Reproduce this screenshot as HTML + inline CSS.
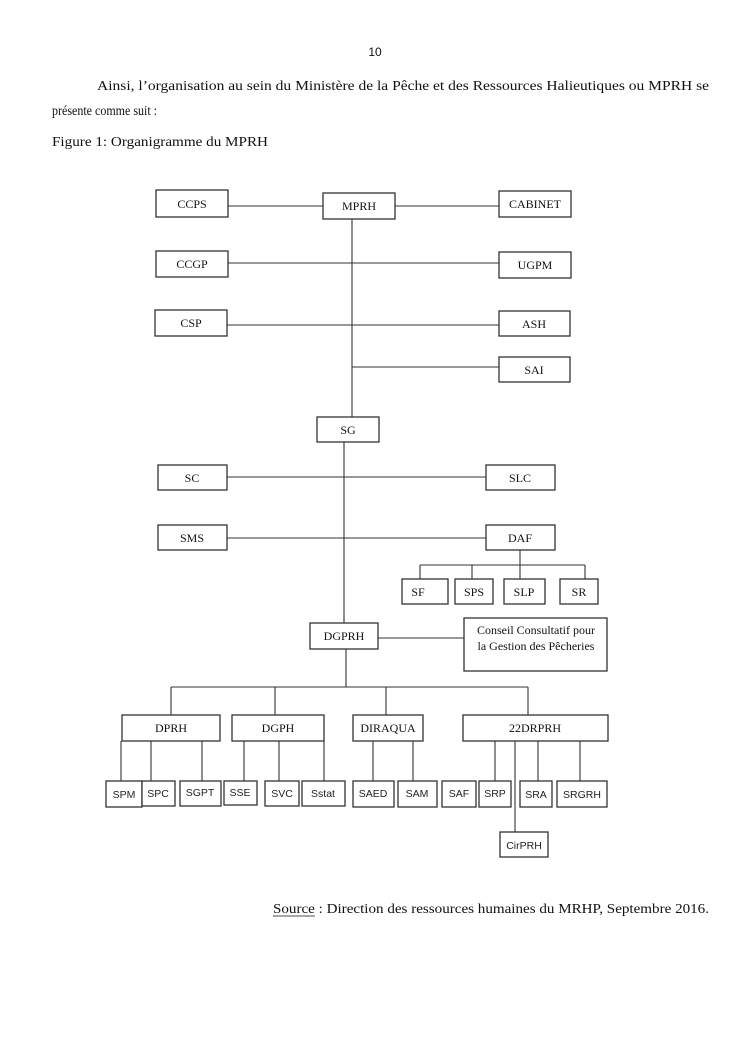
<!DOCTYPE html>
<html><head><meta charset="utf-8"><style>
html,body{margin:0;padding:0;background:#fff;}
svg{display:block}
.t{font-family:"Times New Roman","Liberation Serif",Times,serif;fill:#111}
.b{font-family:"Times New Roman","Liberation Serif",Times,serif;fill:#111;font-size:12px;text-anchor:middle}
.s{font-family:"Liberation Sans",Arial,sans-serif;fill:#222;font-size:10.5px;text-anchor:middle}
rect{fill:#fff;stroke:#333;stroke-width:1.3}
line{stroke:#333;stroke-width:1.1}
</style></head><body>
<svg width="745" height="1053" viewBox="0 0 745 1053" xmlns="http://www.w3.org/2000/svg">
<text x="375" y="56" class="s" style="font-size:12px;fill:#111">10</text>
<text x="97" y="90" class="t" font-size="13.5" textLength="612" lengthAdjust="spacingAndGlyphs">Ainsi, l’organisation au sein du Ministère de la Pêche et des Ressources Halieutiques ou MPRH se</text>
<text x="52" y="115" class="t" font-size="13.5" textLength="105" lengthAdjust="spacingAndGlyphs">présente comme suit :</text>
<text x="52" y="146" class="t" font-size="13.5" textLength="216" lengthAdjust="spacingAndGlyphs">Figure 1: Organigramme du MPRH</text>

<line x1="228" y1="206" x2="323" y2="206"/>
<line x1="395" y1="206" x2="499" y2="206"/>
<line x1="352" y1="219" x2="352" y2="417"/>
<line x1="228" y1="263" x2="499" y2="263"/>
<line x1="227" y1="325" x2="499" y2="325"/>
<line x1="352" y1="367" x2="499" y2="367"/>
<line x1="344" y1="442" x2="344" y2="623"/>
<line x1="227" y1="477" x2="486" y2="477"/>
<line x1="227" y1="538" x2="486" y2="538"/>
<line x1="520" y1="550" x2="520" y2="579"/>
<line x1="420" y1="565" x2="585" y2="565"/>
<line x1="420" y1="565" x2="420" y2="579"/>
<line x1="472" y1="565" x2="472" y2="579"/>
<line x1="585" y1="565" x2="585" y2="579"/>
<line x1="378" y1="638" x2="464" y2="638"/>
<line x1="346" y1="649" x2="346" y2="687"/>
<line x1="171" y1="687" x2="528" y2="687"/>
<line x1="171" y1="687" x2="171" y2="715"/>
<line x1="275" y1="687" x2="275" y2="715"/>
<line x1="386" y1="687" x2="386" y2="715"/>
<line x1="528" y1="687" x2="528" y2="715"/>
<line x1="121" y1="741" x2="121" y2="781"/>
<line x1="151" y1="741" x2="151" y2="781"/>
<line x1="202" y1="741" x2="202" y2="781"/>
<line x1="244" y1="741" x2="244" y2="781"/>
<line x1="279" y1="741" x2="279" y2="781"/>
<line x1="324" y1="741" x2="324" y2="781"/>
<line x1="373" y1="741" x2="373" y2="781"/>
<line x1="413" y1="741" x2="413" y2="781"/>
<line x1="495" y1="741" x2="495" y2="781"/>
<line x1="515" y1="741" x2="515" y2="832"/>
<line x1="538" y1="741" x2="538" y2="781"/>
<line x1="580" y1="741" x2="580" y2="781"/>

<rect x="156" y="190" width="72" height="27"/><text x="192" y="208" class="b">CCPS</text>
<rect x="323" y="193" width="72" height="26"/><text x="359" y="210" class="b">MPRH</text>
<rect x="499" y="191" width="72" height="26"/><text x="535" y="208" class="b">CABINET</text>
<rect x="156" y="251" width="72" height="26"/><text x="192" y="268" class="b">CCGP</text>
<rect x="499" y="252" width="72" height="26"/><text x="535" y="269" class="b">UGPM</text>
<rect x="155" y="310" width="72" height="26"/><text x="191" y="327" class="b">CSP</text>
<rect x="499" y="311" width="71" height="25"/><text x="534" y="328" class="b">ASH</text>
<rect x="499" y="357" width="71" height="25"/><text x="534" y="374" class="b">SAI</text>
<rect x="317" y="417" width="62" height="25"/><text x="348" y="434" class="b">SG</text>
<rect x="158" y="465" width="69" height="25"/><text x="192" y="482" class="b">SC</text>
<rect x="486" y="465" width="69" height="25"/><text x="520" y="482" class="b">SLC</text>
<rect x="158" y="525" width="69" height="25"/><text x="192" y="542" class="b">SMS</text>
<rect x="486" y="525" width="69" height="25"/><text x="520" y="542" class="b">DAF</text>
<rect x="402" y="579" width="46" height="25"/><text x="418" y="596" class="b">SF</text>
<rect x="455" y="579" width="38" height="25"/><text x="474" y="596" class="b">SPS</text>
<rect x="504" y="579" width="41" height="25"/><text x="524" y="596" class="b">SLP</text>
<rect x="560" y="579" width="38" height="25"/><text x="579" y="596" class="b">SR</text>
<rect x="310" y="623" width="68" height="26"/><text x="344" y="640" class="b">DGPRH</text>
<rect x="464" y="618" width="143" height="53"/>
<text x="536" y="634" class="b" font-size="11.5">Conseil  Consultatif pour</text>
<text x="536" y="650" class="b" font-size="11.5">la Gestion des Pêcheries</text>
<rect x="122" y="715" width="98" height="26"/><text x="171" y="732" class="b">DPRH</text>
<rect x="232" y="715" width="92" height="26"/><text x="278" y="732" class="b">DGPH</text>
<rect x="353" y="715" width="70" height="26"/><text x="388" y="732" class="b">DIRAQUA</text>
<rect x="463" y="715" width="145" height="26"/><text x="535" y="732" class="b">22DRPRH</text>

<rect x="106" y="781" width="36" height="26"/><text x="124" y="798" class="s">SPM</text>
<rect x="142" y="781" width="33" height="25"/><text x="158" y="797" class="s">SPC</text>
<rect x="180" y="781" width="41" height="25"/><text x="200" y="796" class="s">SGPT</text>
<rect x="224" y="781" width="33" height="24"/><text x="240" y="796" class="s">SSE</text>
<rect x="265" y="781" width="34" height="25"/><text x="282" y="797" class="s">SVC</text>
<rect x="302" y="781" width="43" height="25"/><text x="323" y="797" class="s">Sstat</text>
<rect x="353" y="781" width="41" height="26"/><text x="373" y="797" class="s">SAED</text>
<rect x="398" y="781" width="39" height="26"/><text x="417" y="797" class="s">SAM</text>
<rect x="442" y="781" width="34" height="26"/><text x="459" y="797" class="s">SAF</text>
<rect x="479" y="781" width="32" height="26"/><text x="495" y="797" class="s">SRP</text>
<rect x="520" y="781" width="32" height="26"/><text x="536" y="798" class="s">SRA</text>
<rect x="557" y="781" width="50" height="26"/><text x="582" y="798" class="s">SRGRH</text>
<rect x="500" y="832" width="48" height="25"/><text x="524" y="849" class="s">CirPRH</text>

<text x="273" y="913" class="t" font-size="13.5" textLength="436" lengthAdjust="spacingAndGlyphs">Source : Direction des ressources humaines du MRHP, Septembre 2016.</text>
<line x1="273" y1="916" x2="315" y2="916" style="stroke:#111;stroke-width:0.8"/>
</svg>
</body></html>
